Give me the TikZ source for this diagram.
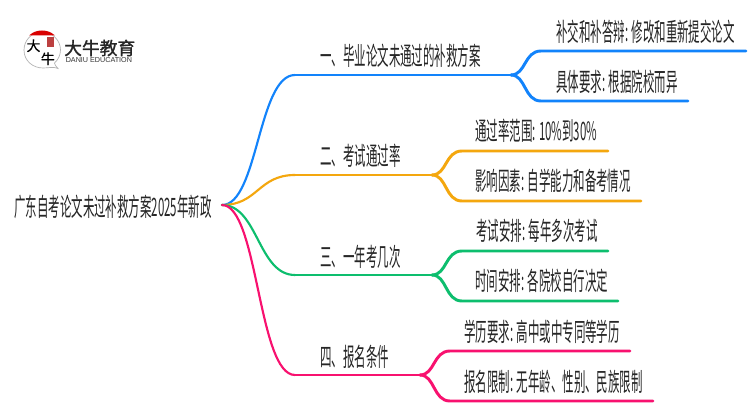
\documentclass[tikz,border=0pt]{standalone}
\usepackage{fontspec}
\newfontfamily\cjk[FakeStretch=0.4525]{Noto Sans CJK SC}
\newfontfamily\cjkplain{Noto Sans CJK SC}[FakeBold=0.6]
\newfontfamily\cjklogo{Noto Sans CJK SC}[FakeBold=1.5]
\setmainfont{Liberation Sans}
\definecolor{cblue}{HTML}{1283FB}
\definecolor{corange}{HTML}{F4A70E}
\definecolor{cgreen}{HTML}{0DBE6E}
\definecolor{cpink}{HTML}{F8116F}
\tikzset{
  txt/.style={font=\cjk\fontsize{19pt}{20pt}\selectfont,text=black!85,inner sep=0pt,anchor=west,text height=14.5pt,text depth=0pt},
  logotxt/.style={font=\cjkplain\fontsize{10.4pt}{12pt}\selectfont,inner sep=0pt,text height=8pt,text depth=0.5pt},
  wire/.style={line width=2.2pt,line cap=round},
  stem/.style={line width=1.6pt,line cap=round},
}
\begin{document}
\begin{tikzpicture}[x=0.75pt,y=-0.75pt]
\useasboundingbox[fill=white] (0,0) rectangle (750,410);
% logo
\fill[white,draw=black!30,line width=0.5pt] (42,32) .. controls (31,32) and (24,41) .. (24,50) .. controls (24,61) and (33,68) .. (43,68) .. controls (48,68) and (54,66.5) .. (58,68.5) .. controls (56,66) and (54.5,65) .. (54.5,63) .. controls (58,60) and (60.5,55) .. (60.5,50) .. controls (60.5,40) and (52,32) .. (42,32) -- cycle;
\fill[red!85!black] (29,35.5) .. controls (33,32) and (37,30.5) .. (42,30.5) .. controls (47,30.5) and (51,32) .. (55,35.5) -- cycle;
\node[logotxt] (logoa) at (33.5,46) {大};
\node[logotxt] (logob) at (47.8,59) {牛};
\fill[red!65!black,opacity=.75] (47,37) rectangle (54,47);
\node[font=\cjklogo\fontsize{13.3pt}{14pt}\selectfont,text=black!85,inner sep=0pt,anchor=west] (logoc) at (64,48) {大牛教育};
\node[font=\fontsize{5.4pt}{6pt}\selectfont,text=black!80,inner sep=0pt,anchor=west] (logod) at (65.5,60.5) {DANIU EDUCATION};
% tree
\coordinate (root) at (222,205);
\coordinate (f1) at (511,75);
\coordinate (f2) at (432,175);
\coordinate (f3) at (432,275);
\coordinate (f4) at (420,375);
\coordinate (e1) at (295,75);
\coordinate (e2) at (295,175);
\coordinate (e3) at (295,275);
\coordinate (e4) at (295,375);
\node[txt] (r) at (14,206.5) {广东自考论文未过补救方案2025年新政};
\node[txt] (n1) at (320,56) {一、毕业论文未通过的补救方案};
\node[txt] (n2) at (320,156) {二、考试通过率};
\node[txt] (n3) at (320,257) {三、一年考几次};
\node[txt] (n4) at (320,357) {四、报名条件};
\node[txt] (a1) at (556,32) {补交和补答辩: 修改和重新提交论文};
\node[txt] (a2) at (556,82) {具体要求: 根据院校而异};
\node[txt] (b1) at (475,131) {通过率范围: 10\%到30\%};
\node[txt] (b2) at (475,181) {影响因素: 自学能力和备考情况};
\node[txt] (c1) at (476,231) {考试安排: 每年多次考试};
\node[txt] (c2) at (475,281) {时间安排: 各院校自行决定};
\node[txt] (d1) at (464,332) {学历要求: 高中或中专同等学历};
\node[txt] (d2) at (464,382) {报名限制: 无年龄、性别、民族限制};
% branches
\draw[stem,cblue] (root) .. controls (258,205) and (258,75) .. (e1);
\draw[wire,cblue] (e1) -- (f1);
\draw[stem,corange] (root) .. controls (258,205) and (258,175) .. (e2);
\draw[wire,corange] (e2) -- (f2);
\draw[stem,cgreen] (root) .. controls (258,205) and (258,275) .. (e3);
\draw[wire,cgreen] (e3) -- (f3);
\draw[stem,cpink] (root) .. controls (258,205) and (258,375) .. (e4);
\draw[wire,cpink] (e4) -- (f4);
% leaves
\coordinate (la) at (541,51); \coordinate (lae) at (746,51);
\coordinate (lb) at (541,101); \coordinate (lbe) at (688,101);
\draw[wire,cblue] (f1) .. controls (526,75) and (524,51) .. (la) -- (lae);
\draw[wire,cblue] (f1) .. controls (526,75) and (524,101) .. (lb) -- (lbe);
\coordinate (ma) at (462,151); \coordinate (mae) at (608,151);
\coordinate (mb) at (462,201); \coordinate (mbe) at (641,201);
\draw[wire,corange] (f2) .. controls (447,175) and (445,151) .. (ma) -- (mae);
\draw[wire,corange] (f2) .. controls (447,175) and (445,201) .. (mb) -- (mbe);
\coordinate (pa) at (462,251); \coordinate (pae) at (608,251);
\coordinate (pb) at (462,301); \coordinate (pbe) at (618,301);
\draw[wire,cgreen] (f3) .. controls (447,275) and (445,251) .. (pa) -- (pae);
\draw[wire,cgreen] (f3) .. controls (447,275) and (445,301) .. (pb) -- (pbe);
\coordinate (qa) at (450,351); \coordinate (qae) at (630,351);
\coordinate (qb) at (450,401); \coordinate (qbe) at (653,401);
\draw[wire,cpink] (f4) .. controls (435,375) and (433,351) .. (qa) -- (qae);
\draw[wire,cpink] (f4) .. controls (435,375) and (433,401) .. (qb) -- (qbe);
\end{tikzpicture}
\end{document}
